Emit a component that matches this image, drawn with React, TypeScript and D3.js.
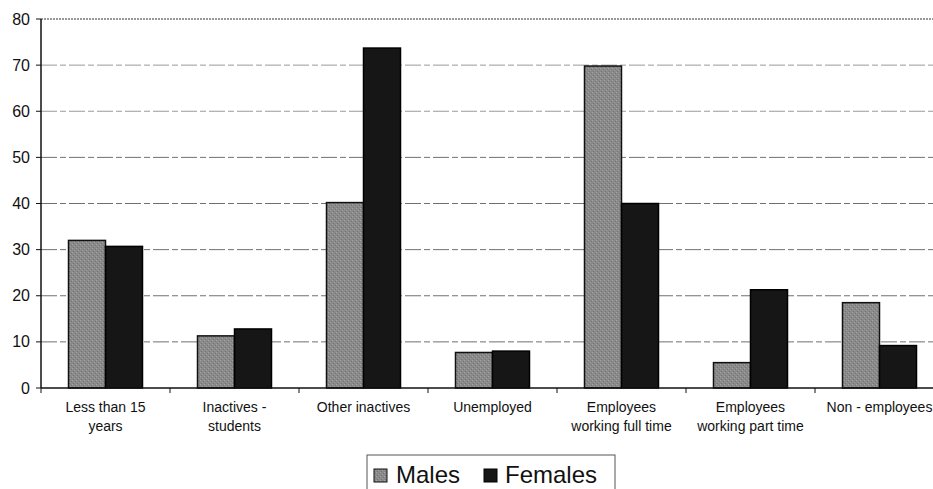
import React from "react";
import * as d3 from "d3";

const categories: string[][] = [
  ["Less than 15", "years"],
  ["Inactives -", "students"],
  ["Other inactives"],
  ["Unemployed"],
  ["Employees", "working full time"],
  ["Employees", "working part time"],
  ["Non - employees"],
];
const males = [32.0, 11.3, 40.2, 7.7, 69.8, 5.5, 18.5];
const females = [30.7, 12.8, 73.7, 8.0, 40.0, 21.3, 9.2];
const yTicks = [0, 10, 20, 30, 40, 50, 60, 70, 80];
const seriesNames = ["Males", "Females"];

export default function App() {
  const W = 933, H = 489;
  const left = 41, right = 944, top = 19, bottom = 388;
  const idx = categories.map((_, i) => String(i));
  const x = d3.scaleBand().domain(idx).range([left, right]).paddingInner(0).paddingOuter(0);
  const y = d3.scaleLinear().domain([0, 80]).range([bottom, top]);
  const font = "Arial, 'Liberation Sans', sans-serif";
  const bw = 37;
  return (
    <div style={{ position: "absolute", left: 0, top: 0 }}>
      <svg width={W} height={H} style={{ display: "block", background: "#fff" }}>
        <defs>
          <pattern id="grain" width="4" height="4" patternUnits="userSpaceOnUse">
            <rect width="4" height="4" fill="#8a8a8a" />
            <rect x="0" y="0" width="1" height="1" fill="#a4a4a4" />
            <rect x="2" y="2" width="1" height="1" fill="#9c9c9c" />
            <rect x="1" y="3" width="1" height="1" fill="#737373" />
            <rect x="3" y="1" width="1" height="1" fill="#767676" />
          </pattern>
        </defs>
        {yTicks.filter(t => t > 0 && t < 80).map(t => (
          <line key={t} x1={left} x2={W} y1={y(t)} y2={y(t)} stroke={t >= 60 ? "#9a9a9a" : "#707070"} strokeWidth={1} strokeDasharray="16 3 6 3" />
        ))}
        <line x1={left} x2={W} y1={y(80)} y2={y(80)} stroke="#333" strokeWidth={1.2} strokeDasharray="2 1" />
        {categories.map((_, i) => {
          const cx = (x(String(i)) as number) + x.bandwidth() / 2;
          return (
            <g key={i}>
              <rect x={cx - bw} y={y(males[i])} width={bw} height={bottom - y(males[i])} fill="url(#grain)" stroke="#111" strokeWidth={1.5} />
              <rect x={cx} y={y(females[i])} width={bw} height={bottom - y(females[i])} fill="#161616" stroke="#000" strokeWidth={1.5} />
            </g>
          );
        })}
        <line x1={left} x2={left} y1={top} y2={bottom} stroke="#111" strokeWidth={1.5} />
        <line x1={left} x2={W} y1={bottom} y2={bottom} stroke="#111" strokeWidth={1.5} />
        {yTicks.map(t => (
          <g key={t}>
            <line x1={left - 5} x2={left} y1={y(t)} y2={y(t)} stroke="#111" />
            <text x={30} y={y(t)} dy="0.35em" textAnchor="end" fontFamily={font} fontSize={16} fill="#111">{t}</text>
          </g>
        ))}
        {d3.range(categories.length + 1).map(i => (
          <line key={i} x1={left + i * x.bandwidth()} x2={left + i * x.bandwidth()} y1={bottom} y2={bottom + 5} stroke="#111" />
        ))}
        {categories.map((lines, i) => {
          const cx = (x(String(i)) as number) + x.bandwidth() / 2;
          return (
            <text key={i} textAnchor="middle" fontFamily={font} fontSize={14} fill="#111">
              {lines.map((l, j) => (
                <tspan key={j} x={cx} y={412 + j * 19}>{l}</tspan>
              ))}
            </text>
          );
        })}
        <rect x={367} y={455} width={248} height={40} fill="#fff" stroke="#555" strokeWidth={1} />
        <rect x={374} y={469} width={13} height={13} fill="url(#grain)" stroke="#111" />
        <text x={396} y={483} fontFamily={font} fontSize={24} fill="#111">{seriesNames[0]}</text>
        <rect x={484} y={469} width={13} height={13} fill="#161616" stroke="#000" />
        <text x={505} y={483} fontFamily={font} fontSize={24} fill="#111">{seriesNames[1]}</text>
      </svg>
    </div>
  );
}
